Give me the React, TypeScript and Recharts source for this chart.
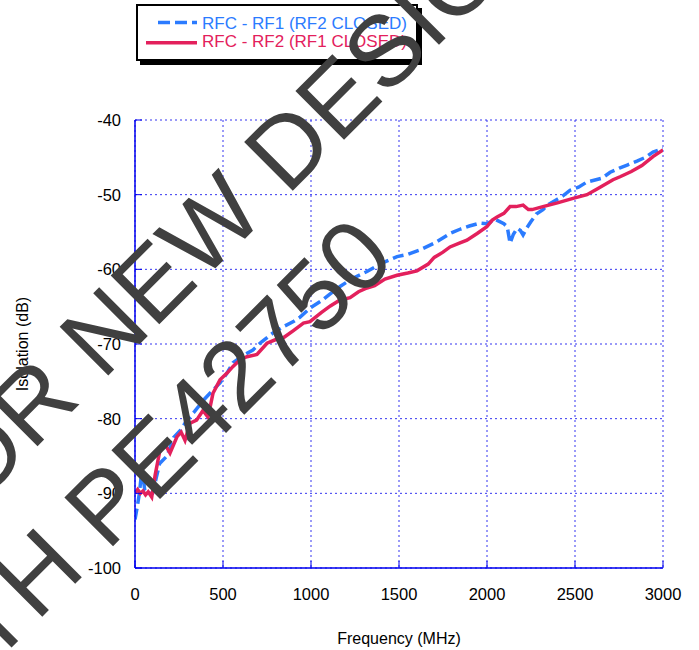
import React from 'react';
import {
  LineChart,
  Line,
  XAxis,
  YAxis,
  CartesianGrid,
  Legend,
} from 'recharts';

// RFC - RF1 (RF2 closed), dashed blue
const rf1Freq = [
  0, 10, 25, 40, 55, 75, 100, 120, 140, 182, 220, 260, 295, 340, 390, 430, 483, 520, 557, 610,
  670, 720, 780, 841, 900, 938, 994, 1060, 1109, 1165, 1230, 1318, 1400, 1489, 1550, 1619, 1700,
  1790, 1850, 1900, 1960, 2000, 2046, 2096, 2115, 2131, 2150, 2172, 2190, 2205, 2225, 2250, 2280,
  2318, 2350, 2400, 2430, 2472, 2520, 2568, 2653, 2700, 2756, 2800, 2852, 2900, 2943, 3000,
];
const rf1Isolation = [
  -93.5, -92.2, -90, -86.6, -89.5, -90, -90, -88, -86, -85, -82.5, -81.5, -80.2, -79, -77.5, -76.5,
  -75.2, -74, -72.5, -71.6, -70.8, -69.7, -68.6, -67.7, -67, -66.4, -65.2, -64.2, -63.3, -62.3,
  -61.3, -60.3, -59.2, -58.3, -58, -57.4, -56.5, -55.2, -54.6, -54.2, -53.8, -53.9, -53.3, -53.9,
  -54.3, -56.5, -55.3, -54.5, -54.8, -55.4, -54.5, -53.6, -52.6, -52, -51.3, -50.6, -50.2, -49.4,
  -49, -48.3, -47.8, -47, -46.4, -46, -45.5, -45, -44.3, -43.8,
];

// RFC - RF2 (RF1 closed), solid red
const rf2Freq = [
  0, 15, 30, 45, 60, 75, 95, 115, 142, 165, 182, 199, 239, 262, 284, 313, 350, 386, 415, 443, 483,
  523, 557, 597, 636, 693, 750, 800, 841, 900, 957, 994, 1058, 1110, 1165, 1222, 1270, 1318, 1362,
  1420, 1489, 1550, 1602, 1666, 1700, 1750, 1790, 1843, 1886, 1944, 1999, 2030, 2057, 2096, 2131,
  2165, 2205, 2235, 2256, 2318, 2400, 2489, 2568, 2628, 2716, 2756, 2820, 2880, 2943, 3000,
];
const rf2Isolation = [
  -90, -89.5, -90, -89.7, -90.2, -89.8, -90.5, -87.5, -84.2, -83.5, -83.9, -84.6, -82.4, -81.8,
  -82.9, -80.6, -80.2, -78.9, -79.8, -76.6, -74.8, -73.9, -73, -72.1, -71.7, -71.4, -69.9, -69.4,
  -69.2, -68.2, -67.2, -67, -65.8, -64.9, -64.1, -63.8, -63, -62.5, -62.2, -61.3, -60.8, -60.5,
  -60.2, -59.3, -58.4, -57.7, -57, -56.5, -56.1, -55.2, -54.3, -53.4, -53, -52.5, -51.6, -51.6,
  -51.4, -52, -52, -51.6, -51.1, -50.5, -50, -49.2, -48, -47.6, -46.9, -46.1, -44.9, -44,
];

const xTicks = [0, 500, 1000, 1500, 2000, 2500, 3000];
const yTicks = [-100, -90, -80, -70, -60, -50, -40];

const rf1Data = rf1Freq.map((f, i) => ({ freq: f, iso: rf1Isolation[i] }));
const rf2Data = rf2Freq.map((f, i) => ({ freq: f, iso: rf2Isolation[i] }));

const BLUE = '#2b7bff';
const RED = '#e3205c';
const AXIS = '#0000ee';
const FONT = '"Liberation Sans", Arial, sans-serif';

const LegendBox = () => (
  <div
    style={{
      position: 'relative',
      width: 282,
      height: 57,
      border: '2px solid #000',
      boxShadow: '4px 4px 0 #000',
      background: '#fff',
      boxSizing: 'border-box',
    }}
  >
    <svg width={282} height={57} style={{ position: 'absolute', left: -2, top: -2 }}>
      <line x1={22} y1={18.5} x2={61} y2={18.5} stroke={BLUE} strokeWidth={3.5} strokeDasharray="12 5" />
      <line x1={10} y1={38.7} x2={61} y2={38.7} stroke={RED} strokeWidth={3.5} />
      <text x={66} y={25.3} fontSize={17} fontFamily={FONT} fill={BLUE}>
        RFC - RF1 (RF2 CLOSED)
      </text>
      <text x={66} y={42.7} fontSize={17} fontFamily={FONT} fill={RED}>
        RFC - RF2 (RF1 CLOSED)
      </text>
    </svg>
  </div>
);

const Watermark = () => (
  <svg
    width={699}
    height={650}
    style={{ position: 'absolute', left: 0, top: 0, pointerEvents: 'none' }}
  >
    <g transform="rotate(-45)" fontFamily={FONT} fontSize={100} fill="#404040">
      <text x={-673} y={342}>NOT FOR NEW DESIGNS</text>
      <text x={97} y={466} textAnchor="end">REPLACE WITH PE42750</text>
    </g>
  </svg>
);

export default function App() {
  const tickStyle = { fill: '#000', fontSize: 16.5, fontFamily: FONT };
  return (
    <div style={{ position: 'absolute', left: 0, top: 0, width: 699, height: 650, background: '#fff' }}>
      <LineChart width={699} height={650} margin={{ top: 120, right: 36, bottom: 52, left: 75 }}>
        <CartesianGrid stroke="#3535f0" strokeDasharray="2 3" strokeWidth={1} />
        <XAxis
          xAxisId={0}
          type="number"
          dataKey="freq"
          domain={[0, 3000]}
          ticks={xTicks}
          allowDataOverflow
          height={30}
          stroke={AXIS}
          axisLine={{ stroke: AXIS, strokeWidth: 1.5 }}
          tickLine={{ stroke: AXIS }}
          tickSize={-7}
          tickMargin={27}
          tick={tickStyle}
          label={{
            content: (p: any) => (
              <text
                x={p.viewBox.x + p.viewBox.width / 2}
                y={p.viewBox.y + 76}
                textAnchor="middle"
                fontSize={16}
                fontFamily={FONT}
                fill="#000"
              >
                Frequency (MHz)
              </text>
            ),
          }}
        />
        <XAxis
          xAxisId="top"
          orientation="top"
          type="number"
          dataKey="freq"
          domain={[0, 3000]}
          ticks={xTicks}
          allowDataOverflow
          height={0}
          axisLine={{ stroke: AXIS, strokeWidth: 1.5 }}
          tickLine={{ stroke: AXIS }}
          tickSize={-7}
          tickFormatter={() => ''}
        />
        <YAxis
          yAxisId={0}
          type="number"
          domain={[-100, -40]}
          ticks={yTicks}
          allowDataOverflow
          width={60}
          axisLine={{ stroke: AXIS, strokeWidth: 1.5 }}
          tickLine={{ stroke: AXIS }}
          tickSize={-7}
          tickMargin={21}
          tick={tickStyle}
          label={{
            content: (p: any) => {
              const cx = p.viewBox.x - 53;
              const cy = p.viewBox.y + p.viewBox.height / 2;
              return (
                <text
                  x={cx}
                  y={cy}
                  transform={`rotate(-90 ${cx} ${cy})`}
                  textAnchor="middle"
                  dominantBaseline="central"
                  fontSize={16}
                  fontFamily={FONT}
                  fill="#000"
                >
                  Isolation (dB)
                </text>
              );
            },
          }}
        />
        <YAxis
          yAxisId="right"
          orientation="right"
          type="number"
          domain={[-100, -40]}
          ticks={yTicks}
          allowDataOverflow
          width={0}
          axisLine={{ stroke: AXIS, strokeWidth: 1.5 }}
          tickLine={{ stroke: AXIS }}
          tickSize={-7}
          tickFormatter={() => ''}
        />
        <Legend
          layout="horizontal"
          verticalAlign="middle"
          align="center"
          content={() => <LegendBox />}
          wrapperStyle={{ position: 'absolute', top: 4, left: 136, width: 282, height: 57 }}
        />
        <Line
          data={rf1Data}
          dataKey="iso"
          name="RFC - RF1 (RF2 CLOSED)"
          type="linear"
          stroke={BLUE}
          strokeWidth={3.5}
          strokeDasharray="11 5"
          dot={false}
          isAnimationActive={false}
        />
        <Line
          data={rf2Data}
          dataKey="iso"
          name="RFC - RF2 (RF1 CLOSED)"
          type="linear"
          stroke={RED}
          strokeWidth={3.5}
          dot={false}
          isAnimationActive={false}
        />
      </LineChart>
      <Watermark />
    </div>
  );
}
